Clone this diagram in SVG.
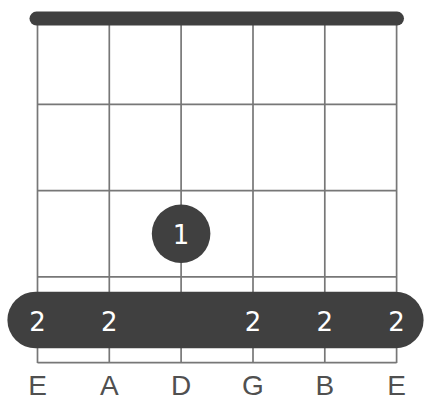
<svg xmlns="http://www.w3.org/2000/svg" width="424" height="401" viewBox="0 0 424 401">
<style>
.grid line{stroke:#777;stroke-width:1.7}
.dot{fill:#404040}
.fing{fill:#fff;font-family:"DejaVu Sans",Verdana,sans-serif;font-size:26px;text-anchor:middle}
.lbl{fill:#505050;font-family:"Liberation Sans",Arial,sans-serif;font-size:28px;text-anchor:middle}
</style>
<rect width="424" height="401" fill="#fff"/>
<g id="grid" class="grid">
<line x1="37.5" y1="18" x2="37.5" y2="363"/>
<line x1="109.3" y1="18" x2="109.3" y2="363"/>
<line x1="181.1" y1="18" x2="181.1" y2="363"/>
<line x1="253" y1="18" x2="253" y2="363"/>
<line x1="324.8" y1="18" x2="324.8" y2="363"/>
<line x1="396.6" y1="18" x2="396.6" y2="363"/>
<line x1="37.5" y1="104.3" x2="396.6" y2="104.3"/>
<line x1="37.5" y1="190.6" x2="396.6" y2="190.6"/>
<line x1="37.5" y1="276.8" x2="396.6" y2="276.8"/>
<line x1="37.5" y1="362.7" x2="396.6" y2="362.7"/>
</g>
<g id="nut">
<line x1="36.5" y1="18.6" x2="397" y2="18.6" stroke="#404040" stroke-width="14" stroke-linecap="round"/>
</g>
<g id="finger1">
<circle class="dot" cx="181.1" cy="233.8" r="29.3"/>
<text class="fing" x="181.1" y="243.5">1</text>
</g>
<g id="barre">
<rect class="dot" x="7.4" y="291.7" width="416.2" height="56.6" rx="28.3"/>
<text class="fing" x="37.5" y="330.5">2</text>
<text class="fing" x="109.3" y="330.5">2</text>
<text class="fing" x="253" y="330.5">2</text>
<text class="fing" x="324.8" y="330.5">2</text>
<text class="fing" x="396.6" y="330.5">2</text>
</g>
<g id="labels">
<text class="lbl" x="37.5" y="395">E</text>
<text class="lbl" x="109.3" y="395">A</text>
<text class="lbl" x="181.1" y="395">D</text>
<text class="lbl" x="253" y="395">G</text>
<text class="lbl" x="324.8" y="395">B</text>
<text class="lbl" x="396.6" y="395">E</text>
</g>
</svg>
